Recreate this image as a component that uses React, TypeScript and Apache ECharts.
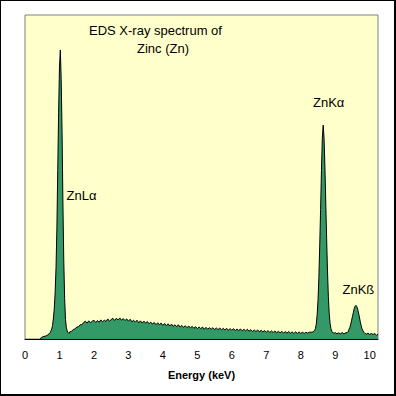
import React, { useEffect, useRef } from "react";
import * as echarts from "echarts";

const titleLines = ["EDS X-ray spectrum of", "Zinc (Zn)"];
const axisTitle = "Energy (keV)";
const peakLabels = ["ZnLα", "ZnKα", "ZnKß"];
const energyMin = 0;
const energyMax = 10.24;
const tickStep = 1;
const countMax = 100;

// [energy keV, counts (relative)]
const lowTail: [number, number][] = [
  [0.45, 0], [0.475, 0.5], [0.5, 0.6], [0.55, 0.8], [0.6, 0.9], [0.65, 1.2],
];

const znLaPeak: [number, number][] = [
  [0.7, 1.6], [0.725, 1.9], [0.75, 2.4], [0.775, 3.1], [0.8, 4.2], [0.825, 6.5],
  [0.85, 9.5], [0.875, 14.5], [0.9, 22], [0.925, 34], [0.95, 52], [0.975, 70],
  [1.0, 84], [1.025, 89.2], [1.05, 80], [1.075, 64], [1.1, 42], [1.125, 24],
  [1.15, 12.5], [1.175, 6], [1.2, 3.5], [1.225, 2.5], [1.25, 2.0], [1.275, 1.7],
  [1.3, 2.2],
];

const continuum: [number, number][] = [
  [1.35, 2.4], [1.4, 2.9], [1.45, 3.1], [1.5, 3.7], [1.55, 3.8], [1.6, 4.4],
  [1.65, 4.4], [1.7, 5.1], [1.75, 5.5], [1.8, 4.9], [1.85, 5.6], [1.9, 5.0],
  [1.95, 5.5], [2.0, 5.8], [2.05, 5.1], [2.1, 5.7], [2.15, 5.2], [2.2, 5.9],
  [2.25, 5.3], [2.3, 5.8], [2.35, 5.4], [2.4, 6.2], [2.45, 5.5], [2.5, 6.0],
  [2.55, 6.4], [2.6, 5.7], [2.65, 6.4], [2.7, 5.9], [2.75, 6.5], [2.8, 5.8],
  [2.85, 6.3], [2.9, 5.7], [2.95, 6.2], [3.0, 5.5], [3.05, 6.1], [3.1, 5.3],
  [3.15, 5.8], [3.2, 5.2], [3.25, 5.8], [3.3, 5.0], [3.35, 5.6], [3.4, 4.9],
  [3.45, 5.5], [3.5, 4.9], [3.55, 5.4], [3.6, 4.7], [3.65, 5.2], [3.7, 4.6],
  [3.75, 5.1], [3.8, 4.4], [3.85, 5.0], [3.9, 4.4], [3.95, 4.9], [4.0, 4.2],
  [4.05, 4.8], [4.1, 4.1], [4.15, 4.7], [4.2, 4.0], [4.25, 4.6], [4.3, 3.9],
  [4.35, 4.4], [4.4, 3.8], [4.45, 4.4], [4.5, 3.7], [4.55, 4.2], [4.6, 3.6],
  [4.65, 4.1], [4.7, 3.5], [4.75, 4.0], [4.8, 3.4], [4.85, 3.9], [4.9, 3.3],
  [4.95, 3.8], [5.0, 3.2], [5.05, 3.7], [5.1, 3.2], [5.15, 3.7], [5.2, 3.0],
  [5.25, 3.6], [5.3, 3.0], [5.35, 3.5], [5.4, 3.0], [5.45, 3.5], [5.5, 2.9],
  [5.55, 3.4], [5.6, 2.9], [5.65, 3.4], [5.7, 2.8], [5.75, 3.3], [5.8, 2.8],
  [5.85, 3.3], [5.9, 2.7], [5.95, 3.2], [6.0, 2.7], [6.05, 3.2], [6.1, 2.6],
  [6.15, 3.1], [6.2, 2.6], [6.25, 3.1], [6.3, 2.5], [6.35, 3.0], [6.4, 2.5],
  [6.45, 3.0], [6.5, 2.4], [6.55, 2.9], [6.6, 2.3], [6.65, 2.8], [6.7, 2.3],
  [6.75, 2.8], [6.8, 2.2], [6.85, 2.7], [6.9, 2.2], [6.95, 2.6], [7.0, 2.1],
  [7.05, 2.6], [7.1, 2.0], [7.15, 2.5], [7.2, 2.0], [7.25, 2.5], [7.3, 1.9],
  [7.35, 2.4], [7.4, 1.9], [7.45, 2.4], [7.5, 1.8], [7.55, 2.3], [7.6, 1.8],
  [7.65, 2.3], [7.7, 1.8], [7.75, 2.2], [7.8, 1.7], [7.85, 2.2], [7.9, 1.7],
  [7.95, 2.2], [8.0, 1.7], [8.05, 2.1], [8.1, 1.7], [8.15, 2.1], [8.2, 1.8],
  [8.25, 2.1], [8.3, 2.1],
];

const znKaPeak: [number, number][] = [
  [8.325, 2.1], [8.35, 2.2], [8.375, 2.4], [8.4, 2.6], [8.425, 3.2], [8.45, 4.6],
  [8.475, 7.5], [8.5, 12], [8.525, 19], [8.55, 29], [8.575, 40], [8.6, 52],
  [8.625, 62], [8.65, 66], [8.675, 62], [8.7, 53], [8.725, 42], [8.75, 31],
  [8.775, 21], [8.8, 13], [8.825, 7.8], [8.85, 4.8], [8.875, 3.2], [8.9, 2.4],
  [8.925, 2.0], [8.95, 1.9], [8.975, 1.8],
];

const midGap: [number, number][] = [
  [9.0, 2.0], [9.05, 1.6], [9.1, 1.9], [9.15, 1.6], [9.2, 2.0], [9.25, 1.6],
  [9.3, 1.9], [9.35, 2.0],
];

const znKbPeak: [number, number][] = [
  [9.375, 2.3], [9.4, 3.0], [9.425, 3.6], [9.45, 4.6], [9.475, 5.8], [9.5, 7.0],
  [9.525, 8.2], [9.55, 9.4], [9.575, 10.1], [9.6, 10.4], [9.625, 10.0], [9.65, 9.2],
  [9.675, 8.0], [9.7, 6.8], [9.725, 5.4], [9.75, 4.2], [9.775, 3.2], [9.8, 2.6],
  [9.825, 2.1], [9.85, 1.8],
];

const highTail: [number, number][] = [
  [9.9, 1.5], [9.95, 1.8], [10.0, 1.4], [10.05, 1.7], [10.1, 1.4], [10.15, 1.7],
  [10.2, 1.1], [10.24, 1.5],
];

const FONT = "'Liberation Sans', Arial, sans-serif";

export default function App() {
  const ref = useRef<HTMLDivElement>(null);
  useEffect(() => {
    if (!ref.current) return;
    const chart = echarts.init(ref.current, undefined, { renderer: "svg" });
    const spectrum = [
      ...lowTail, ...znLaPeak, ...continuum, ...znKaPeak, ...midGap, ...znKbPeak, ...highTail,
    ];
    const txt = (text: string, x: number, y: number, align: string, size: number) => ({
      type: "text",
      x,
      y,
      z: 100,
      style: {
        text,
        fontSize: size,
        fontFamily: FONT,
        fill: "#000",
        align,
        textAlign: align,
        verticalAlign: "middle",
        textVerticalAlign: "middle",
      },
    });
    const blk = (x: number, y: number, w: number, h: number) => ({
      type: "rect",
      z: 100,
      shape: { x, y, width: w, height: h },
      style: { fill: "#000" },
    });
    chart.setOption({
      animation: false,
      backgroundColor: "#fff",
      grid: {
        left: 25,
        top: 15,
        width: 353,
        height: 324,
        show: true,
        backgroundColor: "#FFFFCC",
        borderColor: "#808080",
        borderWidth: 1,
      },
      xAxis: {
        type: "value",
        min: energyMin,
        max: energyMax,
        interval: tickStep,
        splitLine: { show: false },
        axisTick: { show: false },
        axisLine: { show: true, onZero: false, lineStyle: { color: "#000", width: 1 } },
        axisLabel: {
          color: "#000",
          fontSize: 11,
          fontFamily: FONT,
          margin: 10,
          showMaxLabel: false,
        },
        name: axisTitle,
        nameLocation: "middle",
        nameGap: 30,
        nameTextStyle: { color: "#000", fontSize: 11, fontWeight: "bold", fontFamily: FONT },
      },
      yAxis: {
        type: "value",
        min: 0,
        max: countMax,
        show: false,
        splitLine: { show: false },
      },
      series: [
        {
          type: "line",
          data: spectrum,
          showSymbol: false,
          symbol: "none",
          lineStyle: { color: "#000", width: 1 },
          areaStyle: { color: "#339966", opacity: 1 },
          z: 2,
        },
      ],
      graphic: [
        txt(titleLines[0], 155.5, 30, "center", 13),
        txt(titleLines[1], 163, 48, "center", 13),
        txt(peakLabels[0], 66.5, 195, "left", 13),
        txt(peakLabels[1], 313, 102.5, "left", 13),
        txt(peakLabels[2], 342.5, 289, "left", 13),
        blk(0, 0, 396, 1),
        blk(0, 0, 1, 396),
        blk(394, 0, 2, 396),
        blk(0, 394, 396, 2),
      ],
    });
    return () => chart.dispose();
  }, []);
  return (
    <div
      ref={ref}
      style={{ position: "fixed", left: 0, top: 0, width: 396, height: 396 }}
    />
  );
}
